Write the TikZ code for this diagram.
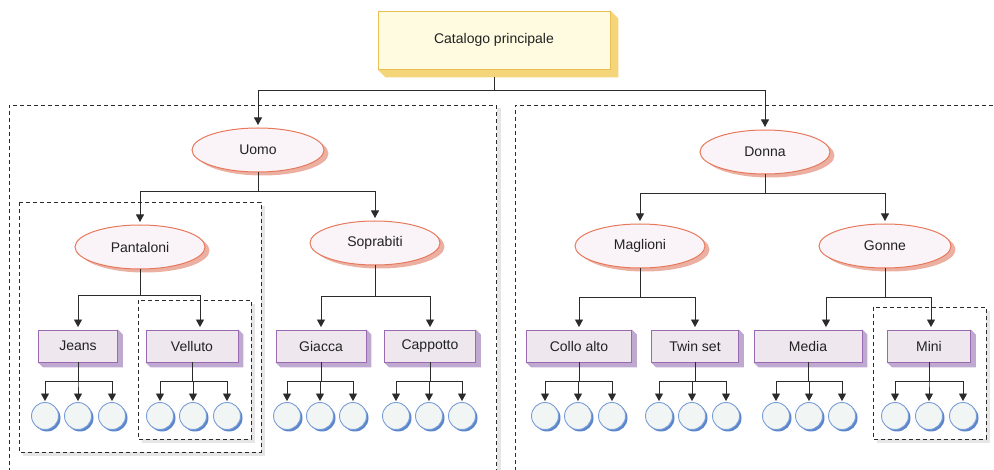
\documentclass[tikz,border=0pt]{standalone}
\usepackage{fontspec}
\setmainfont{Liberation Sans}
\usetikzlibrary{arrows.meta,shapes.geometric,shadows,backgrounds,calc}
\definecolor{catfill}{HTML}{FFFBE1}
\definecolor{catdraw}{HTML}{E9BE55}
\definecolor{catsh}{HTML}{F5D57A}
\definecolor{ellfill}{HTML}{FAF4F8}
\definecolor{elldraw}{HTML}{E8785C}
\definecolor{ellsh}{HTML}{ECB0A2}
\definecolor{boxfill}{HTML}{EEE7EE}
\definecolor{boxdraw}{HTML}{9A6AB0}
\definecolor{boxsh}{HTML}{BFA9D0}
\definecolor{leaffill}{HTML}{F1F5F4}
\definecolor{leafdraw}{HTML}{7A9ED8}
\definecolor{leafsh}{HTML}{5B86CB}
\definecolor{framesh}{HTML}{E6E6E6}
\definecolor{linec}{HTML}{2B2B2B}
\definecolor{txt}{HTML}{222222}
\tikzset{
  lbl/.style={font=\fontsize{14}{16}\selectfont, text=txt},
  catbox/.style={lbl, rectangle, draw=catdraw, fill=catfill, line width=0.9pt, minimum width=232pt, minimum height=58pt},
  ell/.style={lbl, ellipse, draw=elldraw, fill=ellfill, line width=1pt, inner sep=0pt, minimum height=44pt,
     general shadow={shadow xshift=4.5pt, shadow yshift=-3.5pt, fill=ellsh, draw=none}},
  pbox/.style={lbl, rectangle, draw=boxdraw, fill=boxfill, line width=0.9pt, minimum height=32pt, inner sep=0pt},
  leaf/.style={circle, draw=leafdraw, fill=leaffill, line width=0.9pt, minimum size=27pt, inner sep=0pt,
     general shadow={shadow xshift=2pt, shadow yshift=-2pt, fill=leafsh, draw=none}},
  conn/.style={draw=linec, line width=0.9pt},
  arr/.style={conn, -{Triangle[width=8pt,length=7.5pt]}, shorten >=2.5pt},
  frame/.style={draw=linec, line width=0.8pt, dash pattern=on 4pt off 3pt},
  fsh/.style={draw=framesh, line width=4pt}
}
\newcommand\extrude[3]{%
  \begin{scope}[on background layer]
  \fill[#2] (#1.south west) -- ([shift={(#3,#3)}]#1.south west) -- ([shift={(#3,#3)}]#1.south east)
     -- ([shift={(#3,#3)}]#1.north east) -- (#1.north east) -- cycle;
  \end{scope}}
\newcommand\leafgroup[5]{%
  \foreach \k/\xx in {1/#3,2/#4,3/#5}{\node[leaf] (#2\k) at (\xx,416) {};}
  \foreach \k in {1,2,3}{\draw[arr, shorten >=1pt] (#1.south) -- (#1.south |- 0,381) -| (#2\k.north);}
}
\begin{document}
\begin{tikzpicture}[x=1pt,y=-1pt]
\useasboundingbox (0,0) rectangle (994,470);
% frames
\draw[fsh] (499,108) -- (499,472);
\draw[frame] (496,480) -- (496,105) -- (9,105) -- (9,480);
\draw[frame] (1000,105) -- (515,105) -- (515,480);
\draw[fsh] (263,206) -- (263,454) -- (23,454);
\draw[frame] (19,202) rectangle (261,452);
\draw[fsh] (253,304) -- (253,441) -- (142,441);
\draw[frame] (138,300) rectangle (251,439);
\draw[fsh] (988,311) -- (988,441) -- (877,441);
\draw[frame] (873,307) rectangle (986,439);

% top node
\node[catbox] (cat) at (494,40) {Catalogo principale};
\extrude{cat}{catsh}{8}

% level 1
\node[ell, minimum width=132pt] (uomo) at (258,150) {Uomo};
\node[ell, minimum width=130pt] (donna) at (765,152) {Donna};
\draw[arr] ([shift={(0,8)}]cat.south) -- (cat.south |- 0,90) -| (uomo.north);
\draw[arr] ([shift={(0,8)}]cat.south) -- (cat.south |- 0,90) -| (donna.north);

% level 2
\node[ell, minimum width=130pt] (pant) at (140,247) {Pantaloni};
\node[ell, minimum width=130pt] (sopr) at (375,243) {Soprabiti};
\node[ell, minimum width=130pt] (magl) at (640,246) {Maglioni};
\node[ell, minimum width=132pt] (gonne) at (885,246) {Gonne};
\draw[arr] (uomo.south) -- (uomo.south |- 0,191) -| (pant.north);
\draw[arr] (uomo.south) -- (uomo.south |- 0,191) -| (sopr.north);
\draw[arr] (donna.south) -- (donna.south |- 0,193) -| (magl.north);
\draw[arr] (donna.south) -- (donna.south |- 0,193) -| (gonne.north);

% level 3
\node[pbox, minimum width=79pt] (jeans) at (78,346) {Jeans};
\node[pbox, minimum width=92pt] (vell) at (192,346) {Velluto};
\node[pbox, minimum width=90pt] (giac) at (321,346) {Giacca};
\node[pbox, minimum width=91pt] (capp) at (430,346) {Cappotto};
\node[pbox, minimum width=105pt] (collo) at (579,346) {Collo alto};
\node[pbox, minimum width=87pt] (twin) at (695,346) {Twin set};
\node[pbox, minimum width=108pt] (media) at (808,346) {Media};
\node[pbox, minimum width=83pt] (mini) at (929,346) {Mini};
\foreach \n in {jeans,vell,giac,capp,collo,twin,media,mini}{\extrude{\n}{boxsh}{5}}

\draw[arr] (pant.south) -- (pant.south |- 0,295) -| (jeans.north);
\draw[arr] (pant.south) -- (pant.south |- 0,295) -| ([shift={(8,0)}]vell.north);
\draw[arr] (sopr.south) -- (sopr.south |- 0,296) -| (giac.north);
\draw[arr] (sopr.south) -- (sopr.south |- 0,296) -| (capp.north);
\draw[arr] (magl.south) -- (magl.south |- 0,297) -| (collo.north);
\draw[arr] (magl.south) -- (magl.south |- 0,297) -| (twin.north);
\draw[arr] (gonne.south) -- (gonne.south |- 0,297) -| ([shift={(18,0)}]media.north);
\draw[arr] (gonne.south) -- (gonne.south |- 0,297) -| ([shift={(2,0)}]mini.north);

% leaves
\leafgroup{jeans}{ja}{45}{78}{112}
\leafgroup{vell}{va}{160}{193}{227}
\leafgroup{giac}{ga}{287}{320}{353}
\leafgroup{capp}{ca}{396}{429}{462}
\leafgroup{collo}{oa}{545}{578}{612}
\leafgroup{twin}{ta}{659}{692}{726}
\leafgroup{media}{ma}{776}{809}{842}
\leafgroup{mini}{na}{895}{929}{963}
\end{tikzpicture}
\end{document}
